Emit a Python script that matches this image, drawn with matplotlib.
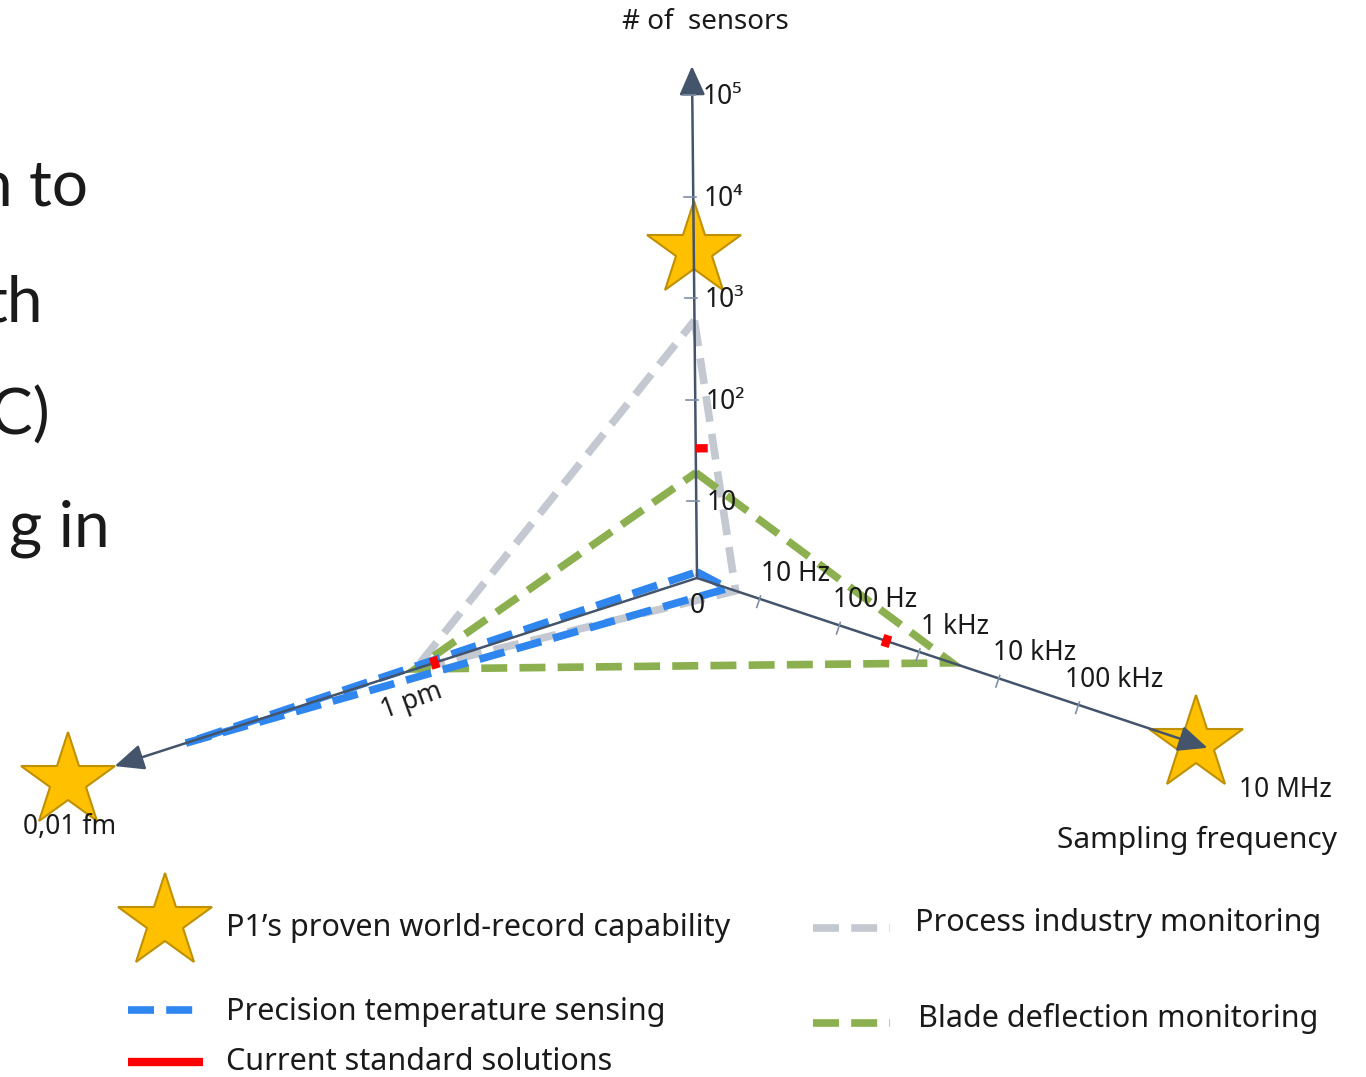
import numpy as np
import matplotlib
matplotlib.use("Agg")
import matplotlib.pyplot as plt

plt.rcParams["font.family"] = ["Noto Sans", "DejaVu Sans"]

# values (every axis is logarithmic)
sensor_ticks = [10, 1e2, 1e3, 1e4, 1e5]
sensor_tick_labels = ["10", "10²", "10³", "10⁴", "10⁵"]
freq_ticks = [10, 1e2, 1e3, 1e4, 1e5]
freq_tick_labels = ["10 Hz", "100 Hz", "1 kHz", "10 kHz", "100 kHz"]
res_ticks = [1e-12]
res_tick_labels = ["1 pm"]

series_names = ["Process industry monitoring", "Blade deflection monitoring",
                "Precision temperature sensing"]
series_sensors = [600, 19, 2]
series_freq = [5, 2600, 4]
series_res = [1e-12, 1e-12, 5e-16]

standard_sensors = 33
standard_freq = 390
standard_res = 1.9e-12

record_sensors = 3000
record_freq = 3e6
record_res = 1e-17

# styling / geometry of the hand-drawn axes (pixels)
AXIS_COLOR = "#44546A"
TICK_COLOR = "#7F8FA6"
STAR_FACE = "#FFC000"
STAR_EDGE = "#BF9000"
RED = "#FF0000"
TEXT = "#1A1A1A"
colors = {"Process industry monitoring": "#C3C8D1",
          "Blade deflection monitoring": "#8CB04F",
          "Precision temperature sensing": "#2F86EE"}

origin = np.array([697.0, 578.0])
dirs = {
    "sensors": np.array([-0.0098, -1.0]),
    "freq": np.array([np.cos(np.radians(18.4)), np.sin(np.radians(18.4))]),
    "res": np.array([-np.cos(np.radians(17.9)), np.sin(np.radians(17.9))]),
}
for k in dirs:
    dirs[k] = dirs[k] / np.linalg.norm(dirs[k])
lengths = {"sensors": 512, "freq": 538, "res": 612}


def dist(axis, value):
    lv = np.log10(value)
    if axis == "sensors":
        return 77 + 101.5 * (lv - 1)
    if axis == "freq":
        return 66 + 84 * (lv - 1)
    return 296 + 73 * (-12 - lv)


def point(axis, value):
    return origin + dirs[axis] * dist(axis, value)


def normal(axis):
    d = dirs[axis]
    return np.array([-d[1], d[0]])


fig = plt.figure(figsize=(13.66, 10.77), dpi=100)
ax = fig.add_axes([0, 0, 1, 1])
ax.set_xlim(0, 1366)
ax.set_ylim(1077, 0)
ax.axis("off")

# cropped slide text on the left (cut by the left edge, as in the source)
for txt, x, y in [("n to", 88, 205), ("th", 43, 322), ("C)", 50, 435), ("g in", 110, 547)]:
    ax.text(x, y, txt, ha="right", va="baseline", fontsize=46,
            family=["Lato", "DejaVu Sans"], color=TEXT)

# series triangles
LW = 5.5
DASH = (3.4, 1.6)
for name, s, f, r in zip(series_names, series_sensors, series_freq, series_res):
    pts = np.array([point("sensors", s), point("freq", f), point("res", r),
                    point("sensors", s)])
    ax.plot(pts[:, 0], pts[:, 1], color=colors[name], lw=LW, dashes=DASH,
            dash_capstyle="butt", dash_joinstyle="miter", zorder=2)

# axes with arrows
for axis in ["sensors", "freq", "res"]:
    tip = origin + dirs[axis] * lengths[axis]
    ax.annotate("", xy=tip, xytext=origin,
                arrowprops=dict(arrowstyle="-|>,head_length=0.9,head_width=0.4",
                                color=AXIS_COLOR, lw=1.8, mutation_scale=20,
                                shrinkA=0, shrinkB=0), zorder=3)

# ticks and tick labels
for v, lab in zip(sensor_ticks, sensor_tick_labels):
    p = point("sensors", v)
    ax.plot([p[0] - 9, p[0] + 3], [p[1], p[1]], color=TICK_COLOR, lw=1.2, zorder=3)
    ax.text(p[0] + 10, p[1] + 2, lab, ha="left", va="center", fontsize=19,
            color=TEXT)
for v, lab in zip(freq_ticks, freq_tick_labels):
    p = point("freq", v)
    n = normal("freq")
    a, b = p - n * 3, p + n * 9
    ax.plot([a[0], b[0]], [a[1], b[1]], color=TICK_COLOR, lw=1.2, zorder=3)
    ax.text(p[0] + 36, p[1] - 25, lab, ha="center", va="center", fontsize=19,
            color=TEXT)
for v, lab in zip(res_ticks, res_tick_labels):
    p = point("res", v)
    ax.text(p[0] - 4, p[1] + 32, lab, ha="center", va="center", fontsize=19,
            rotation=20, color=TEXT)
ax.text(origin[0], origin[1] + 28, "0", ha="center", va="center", fontsize=19,
        color=TEXT)

# current standard solutions (red marks)
for axis, v, off in [("sensors", standard_sensors, 6),
                     ("freq", standard_freq, 0),
                     ("res", standard_res, 0)]:
    p = point(axis, v)
    n = normal(axis)
    a, b = p + n * (off - 6), p + n * (off + 6)
    ax.plot([a[0], b[0]], [a[1], b[1]], color=RED, lw=6, solid_capstyle="butt",
            zorder=4)

# world-record stars
for axis, v in [("sensors", record_sensors), ("freq", record_freq),
                ("res", record_res)]:
    p = point(axis, v)
    ax.plot(p[0], p[1], marker="*", ms=71, mfc=STAR_FACE, mec=STAR_EDGE,
            mew=1.5, zorder=2.5)

# axis titles
ax.text(705, 22, "# of  sensors", ha="center", va="center", fontsize=20,
        color=TEXT)
ax.text(1197, 840, "Sampling frequency", ha="center", va="center", fontsize=21.5,
        color=TEXT)
ax.text(1285, 790, "10 MHz", ha="center", va="center", fontsize=19, color=TEXT)
ax.text(70, 827, "0,01 fm", ha="center", va="center", fontsize=19, color=TEXT)

# legend, drawn by hand
ax.plot(165, 922, marker="*", ms=71, mfc=STAR_FACE, mec=STAR_EDGE, mew=1.5)
ax.text(226, 928, "P1’s proven world-record capability", ha="left", va="center",
        fontsize=22, color=TEXT)
legend_lines = [
    ("Precision temperature sensing", 128, 203, 1010, 226, 1012),
    ("Process industry monitoring", 813, 890, 928, 915, 923),
    ("Blade deflection monitoring", 813, 890, 1023, 918, 1018),
]
for name, x0, x1, y, tx, ty in legend_lines:
    ax.plot([x0, x1], [y, y], color=colors[name], lw=LW, dashes=DASH,
            dash_capstyle="butt")
    ax.text(tx, ty, name, ha="left", va="center", fontsize=22, color=TEXT)
ax.plot([128, 203], [1062, 1062], color=RED, lw=6, solid_capstyle="butt")
ax.text(226, 1062, "Current standard solutions", ha="left", va="center",
        fontsize=22, color=TEXT)

fig.savefig("out.png", dpi=100)
